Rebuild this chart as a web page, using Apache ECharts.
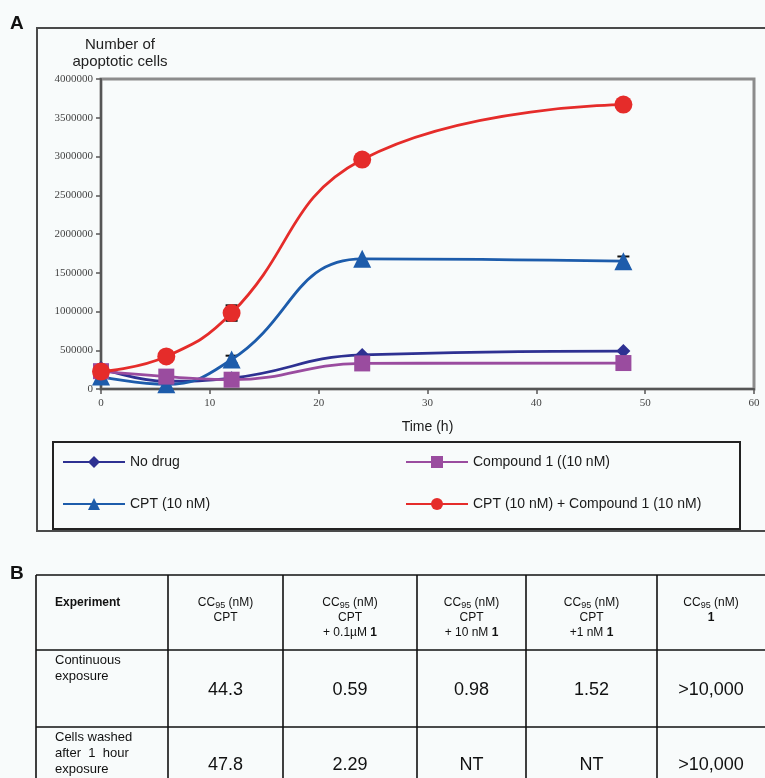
<!DOCTYPE html>
<html>
<head>
<meta charset="utf-8">
<script src="https://cdn.jsdelivr.net/npm/echarts@6/dist/echarts.min.js"></script>
<style>
  html, body { margin: 0; padding: 0; background: #f8fbfb; }
  #main { width: 765px; height: 778px; }
</style>
</head>
<body>
<div id="main"></div>
<script>
// Time points (h)
const hours = [0, 6, 12, 24, 48];
// Number of apoptotic cells per condition
const noDrug = [270000, 100000, 140000, 440000, 490000];
const compound1 = [230000, 160000, 120000, 330000, 335000];
const cpt = [160000, 60000, 380000, 1680000, 1650000];
const cptPlusCompound = [225000, 420000, 980000, 2960000, 3670000];
// Error bar half-widths (0 = no bar drawn)
const cptErr = [0, 0, 50000, 0, 60000];
const cptPlusCompoundErr = [0, 0, 100000, 0, 0];

const seriesNames = ['No drug', 'Compound 1 ((10 nM)', 'CPT (10 nM)', 'CPT (10 nM) + Compound 1 (10 nM)'];

// Table of CC95 values
const tableColumns = [
  ['CPT'],
  ['CPT', '+ 0.1\u00b5M 1'],
  ['CPT', '+ 10 nM 1'],
  ['CPT', '+1 nM 1'],
  ['1']
];
const tableRowLabels = [['Continuous', 'exposure'], ['Cells washed', 'after  1  hour', 'exposure']];
const tableValues = [
  ['44.3', '0.59', '0.98', '1.52', '>10,000'],
  ['47.8', '2.29', 'NT', 'NT', '>10,000']
];

const pairs = (ys) => hours.map((h, i) => [h, ys[i]]);
const errData = (ys, es) => hours.map((h, i) => [h, ys[i] - es[i], ys[i] + es[i]]).filter((d, i) => es[i] > 0);

function errorBar(params, api) {
  const x = api.value(0);
  const lo = api.coord([x, api.value(1)]);
  const hi = api.coord([x, api.value(2)]);
  const w = 6;
  const st = { stroke: '#111', lineWidth: 2 };
  return {
    type: 'group',
    children: [
      { type: 'line', shape: { x1: lo[0], y1: lo[1], x2: hi[0], y2: hi[1] }, style: st },
      { type: 'line', shape: { x1: lo[0] - w, y1: lo[1], x2: lo[0] + w, y2: lo[1] }, style: st },
      { type: 'line', shape: { x1: hi[0] - w, y1: hi[1], x2: hi[0] + w, y2: hi[1] }, style: st }
    ]
  };
}

// Table geometry
const colX = [36, 168, 283, 417, 526, 657, 765];
const rowY = [575, 650, 727, 800];
const tableGraphics = [];
const ln = (x1, y1, x2, y2) => ({ type: 'line', shape: { x1, y1, x2, y2 }, style: { stroke: '#111', lineWidth: 1.6 } });
rowY.slice(0, 3).forEach(y => tableGraphics.push(ln(colX[0], y, 765, y)));
colX.slice(0, 6).forEach(x => tableGraphics.push(ln(x, rowY[0], x, 778)));

const cellFont = '12px "Liberation Sans", Arial';
tableGraphics.push({
  type: 'text', left: 55, top: 597,
  style: { text: 'Experiment', font: 'bold 12px "Liberation Sans", Arial', fill: '#111' }
});
tableColumns.forEach((lines, c) => {
  const cx = (colX[c + 1] + colX[c + 2]) / 2;
  tableGraphics.push({
    type: 'text', x: cx, y: 596,
    style: {
      text: '{a|CC}{s|95}{a| (nM)}',
      align: 'center', verticalAlign: 'top',
      rich: {
        a: { font: cellFont, fill: '#111' },
        s: { font: '9px "Liberation Sans", Arial', fill: '#111', padding: [5, 0, 0, 0] }
      }
    }
  });
  lines.forEach((t, k) => {
    let rich;
    if (t === '1') {
      rich = '{b|1}';
    } else if (t.endsWith(' 1')) {
      rich = '{a|' + t.slice(0, -1) + '}{b|1}';
    } else {
      rich = '{a|' + t + '}';
    }
    tableGraphics.push({
      type: 'text', x: cx, y: 612 + k * 15,
      style: {
        text: rich, align: 'center', verticalAlign: 'top',
        rich: {
          a: { font: cellFont, fill: '#111' },
          b: { font: 'bold 12px "Liberation Sans", Arial', fill: '#111' }
        }
      }
    });
  });
});
tableRowLabels.forEach((lines, r) => {
  lines.forEach((t, k) => {
    tableGraphics.push({
      type: 'text', left: 55, top: rowY[r + 1] + 4 + k * 16,
      style: { text: t, font: '13px "Liberation Sans", Arial', fill: '#111' }
    });
  });
});
tableValues.forEach((vals, r) => {
  const cy = r === 0 ? 690 : 765;
  vals.forEach((v, c) => {
    const cx = (colX[c + 1] + colX[c + 2]) / 2;
    tableGraphics.push({
      type: 'text', x: cx, y: cy,
      style: { text: v, align: 'center', verticalAlign: 'middle', font: '18px "Liberation Sans", Arial', fill: '#111' }
    });
  });
});

const chart = echarts.init(document.getElementById('main'), null, { renderer: 'canvas' });

const lineSeries = (name, data, color, symbol, size, z) => ({
  name, type: 'line', data: pairs(data), smooth: 0.45,
  symbol, symbolSize: size, z,
  lineStyle: { color, width: 2.8 },
  itemStyle: { color, borderWidth: 0 },
  emphasis: { disabled: true }
});

const legendText = { fontFamily: '"Liberation Sans", Arial', fontSize: 14, color: '#1a1a1a' };

chart.setOption({
  backgroundColor: '#f8fbfb',
  animation: false,
  grid: {
    left: 101, top: 79, right: 11, bottom: 389,
    show: true, borderColor: '#8c8c8c', borderWidth: 3, backgroundColor: 'transparent'
  },
  legend: [
    {
      data: [seriesNames[0], seriesNames[2]], orient: 'vertical',
      left: 62, top: 455, itemGap: 28, itemWidth: 62, itemHeight: 15,
      textStyle: legendText, padding: 0
    },
    {
      data: [seriesNames[1], seriesNames[3]], orient: 'vertical',
      left: 405, top: 455, itemGap: 28, itemWidth: 62, itemHeight: 15,
      textStyle: legendText, padding: 0
    }
  ],
  xAxis: {
    type: 'value', min: 0, max: 60, interval: 10,
    name: 'Time (h)', nameLocation: 'middle', nameGap: 31,
    nameTextStyle: { fontFamily: '"Liberation Sans", Arial', fontSize: 14, color: '#1a1a1a' },
    axisLine: { show: true, onZero: false, lineStyle: { color: '#555', width: 2 } },
    axisTick: { show: true, length: 5, lineStyle: { color: '#555', width: 1.5 } },
    axisLabel: { fontFamily: '"Liberation Serif", "Times New Roman", serif', fontSize: 11, color: '#444', margin: 9 },
    splitLine: { show: false }
  },
  yAxis: {
    type: 'value', min: 0, max: 4000000, interval: 500000,
    axisLine: { show: true, lineStyle: { color: '#555', width: 2 } },
    axisTick: { show: true, length: 5, lineStyle: { color: '#555', width: 1.5 } },
    axisLabel: {
      fontFamily: '"Liberation Serif", "Times New Roman", serif', fontSize: 11, color: '#444', margin: 8,
      formatter: (v) => String(v)
    },
    splitLine: { show: false }
  },
  series: [
    lineSeries(seriesNames[0], noDrug, '#2e3192', 'diamond', 14, 2),
    lineSeries(seriesNames[2], cpt, '#1d5cab', 'triangle', 18, 3),
    lineSeries(seriesNames[1], compound1, '#9a4c9f', 'rect', 16, 4),
    lineSeries(seriesNames[3], cptPlusCompound, '#e52c2a', 'circle', 18, 5),
    {
      type: 'custom', name: 'errCpt', renderItem: errorBar, data: errData(cpt, cptErr), z: 1,
      encode: { x: 0, y: [1, 2] }, silent: true
    },
    {
      type: 'custom', name: 'errCombo', renderItem: errorBar, data: errData(cptPlusCompound, cptPlusCompoundErr), z: 1,
      encode: { x: 0, y: [1, 2] }, silent: true
    }
  ],
  graphic: [
    // Panel A frame
    {
      type: 'polyline', z: -1,
      shape: { points: [[765, 28], [37, 28], [37, 531], [765, 531]] },
      style: { stroke: '#4a4a4a', lineWidth: 2, fill: null }
    },
    // Legend box
    {
      type: 'rect', z: -1,
      shape: { x: 53, y: 442, width: 687, height: 87 },
      style: { stroke: '#222', lineWidth: 2, fill: null }
    },
    {
      type: 'text', left: 10, top: 14,
      style: { text: 'A', font: 'bold 19px "Liberation Sans", Arial', fill: '#111' }
    },
    {
      type: 'text', left: 10, top: 564,
      style: { text: 'B', font: 'bold 19px "Liberation Sans", Arial', fill: '#111' }
    },
    {
      type: 'text', x: 120, y: 36,
      style: {
        text: 'Number of\napoptotic cells', align: 'center', verticalAlign: 'top',
        font: '15px "Liberation Sans", Arial', fill: '#222', lineHeight: 17
      }
    }
  ].concat(tableGraphics)
});
</script>
</body>
</html>
